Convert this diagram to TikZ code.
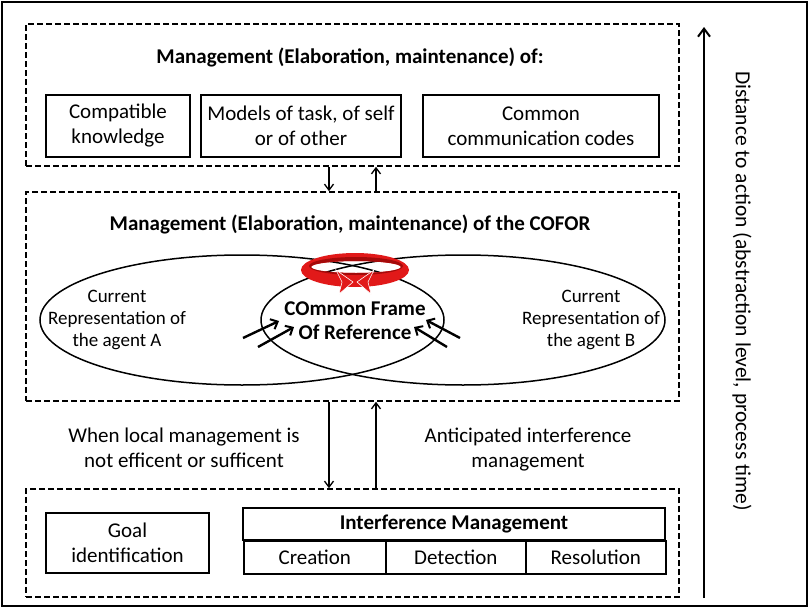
\documentclass[tikz,border=0pt]{standalone}
\usepackage{fontspec}
\setmainfont{Carlito}
\usetikzlibrary{arrows.meta,shapes.geometric}
\definecolor{ringred}{RGB}{225,25,25}
\definecolor{ringdark}{RGB}{165,10,10}
\begin{document}
\begin{tikzpicture}[x=1pt,y=-1pt,
  solidbox/.style={draw,line width=1.6pt,align=center,inner sep=0pt,font=\fontsize{21}{25}\selectfont},
  cellbox/.style={draw,line width=1.6pt,align=center,inner sep=0pt,font=\fontsize{21}{25}\selectfont},
  dbox/.style={draw,line width=1.6pt,dash pattern=on 6pt off 3pt,inner sep=0pt},
  title/.style={font=\bfseries\fontsize{21}{25}\selectfont,align=center},
  plain/.style={font=\fontsize{21}{25}\selectfont,align=center},
  agent/.style={font=\fontsize{19}{22}\selectfont,align=center},
  venn/.style={draw,ellipse,line width=1.5pt,minimum width=404pt,minimum height=130pt,inner sep=0pt},
  conn/.style={line width=1.5pt,-{Straight Barb[length=6pt,width=9pt,line width=1.3pt]}},
  barr/.style={line width=2.4pt,-{Straight Barb[length=6pt,width=11pt,line width=2pt]}}]
\useasboundingbox (0,0) rectangle (809,608);
\draw[line width=1.3pt] (2,2) rectangle (807,606);

% containers
\node[dbox,minimum width=653pt,minimum height=142pt] (top) at (352.5,95) {};
\node[dbox,minimum width=653pt,minimum height=209pt] (mid) at (352.5,296.5) {};
\node[dbox,minimum width=653pt,minimum height=108pt] (bot) at (352.5,543) {};

% top content
\node[title] (t1) at (350,57) {Management (Elaboration, maintenance) of:};
\node[solidbox,minimum width=144pt,minimum height=62pt] (ck) at (118,126) {Compatible\\knowledge};
\node[solidbox,minimum width=200pt,minimum height=62pt] (mo) at (301,126) {Models of task, of self\\or of other};
\node[solidbox,minimum width=236pt,minimum height=62pt] (cc) at (541,126) {Common\\communication codes};

% middle content
\node[title] (t2) at (350,224) {Management (Elaboration, maintenance) of the COFOR};
\node[venn] (ea) at (242,320) {};
\node[venn] (eb) at (463,320) {};

% red ring
\fill[ringred,even odd rule] (355,270) ellipse [x radius=54, y radius=17] (356,267) ellipse [x radius=45, y radius=6];
\fill[ringdark,even odd rule] (356,266) ellipse [x radius=47, y radius=9] (356,267) ellipse [x radius=45, y radius=6];
\fill[ringred,draw=white,line width=0.6pt] (336,270) -- (353,282) -- (339,294) -- (342,282) -- cycle;
\fill[ringred,draw=white,line width=0.6pt] (374,270) -- (357,282) -- (371,294) -- (368,282) -- cycle;

\node[font=\bfseries\fontsize{21}{24}\selectfont,align=center] (cofor) at (355,321) {COmmon Frame\\Of Reference};
\node[agent] (ca) at (117,320) {Current\\Representation of\\the agent A};
\node[agent] (cb) at (591,320) {Current\\Representation of\\the agent B};

\coordinate (a1s) at (243,338); \coordinate (a1e) at (279,321);
\coordinate (a2s) at (258,347); \coordinate (a2e) at (294,327);
\coordinate (b1s) at (460,338); \coordinate (b1e) at (426,320);
\coordinate (b2s) at (447,347); \coordinate (b2e) at (414,327);
\draw[barr] (a1s) -- (a1e);
\draw[barr] (a2s) -- (a2e);
\draw[barr] (b1s) -- (b1e);
\draw[barr] (b2s) -- (b2e);

% connectors
\coordinate (xd) at (329,0);
\coordinate (xu) at (376,0);
\draw[conn] (top.south -| xd) -- (mid.north -| xd);
\draw[conn] (mid.north -| xu) -- (top.south -| xu);
\draw[conn] (mid.south -| xd) -- (bot.north -| xd);
\draw[conn] (bot.north -| xu) -- (mid.south -| xu);

\node[plain] (wl) at (184,448) {When local management is\\not efficent or sufficent};
\node[plain] (ai) at (528,450) {Anticipated interference\\management};

% bottom content
\node[solidbox,minimum width=163pt,minimum height=60pt] (goal) at (127.5,543) {Goal\\identification};
\node[cellbox,font=\bfseries\fontsize{21}{25}\selectfont,minimum width=422pt,minimum height=32pt] (im) at (454,524) {Interference Management};
\node[cellbox,minimum width=142pt,minimum height=33pt,anchor=north west] (cr) at (243,540) {Creation};
\node[cellbox,minimum width=140pt,minimum height=33pt,anchor=north west] (de) at (385,540) {Detection};
\node[cellbox,minimum width=140pt,minimum height=33pt,anchor=north west] (re) at (525,540) {Resolution};

% distance arrow
\coordinate (da0) at (704,598);
\coordinate (da1) at (704,27);
\draw[line width=2.4pt,-{Straight Barb[length=8pt,width=12pt,line width=2pt]}] (da0) -- (da1);
\node[rotate=-90,font=\fontsize{21.5}{25}\selectfont] (dist) at (742,291) {Distance to action (abstraction level, process time)};
\end{tikzpicture}
\end{document}
